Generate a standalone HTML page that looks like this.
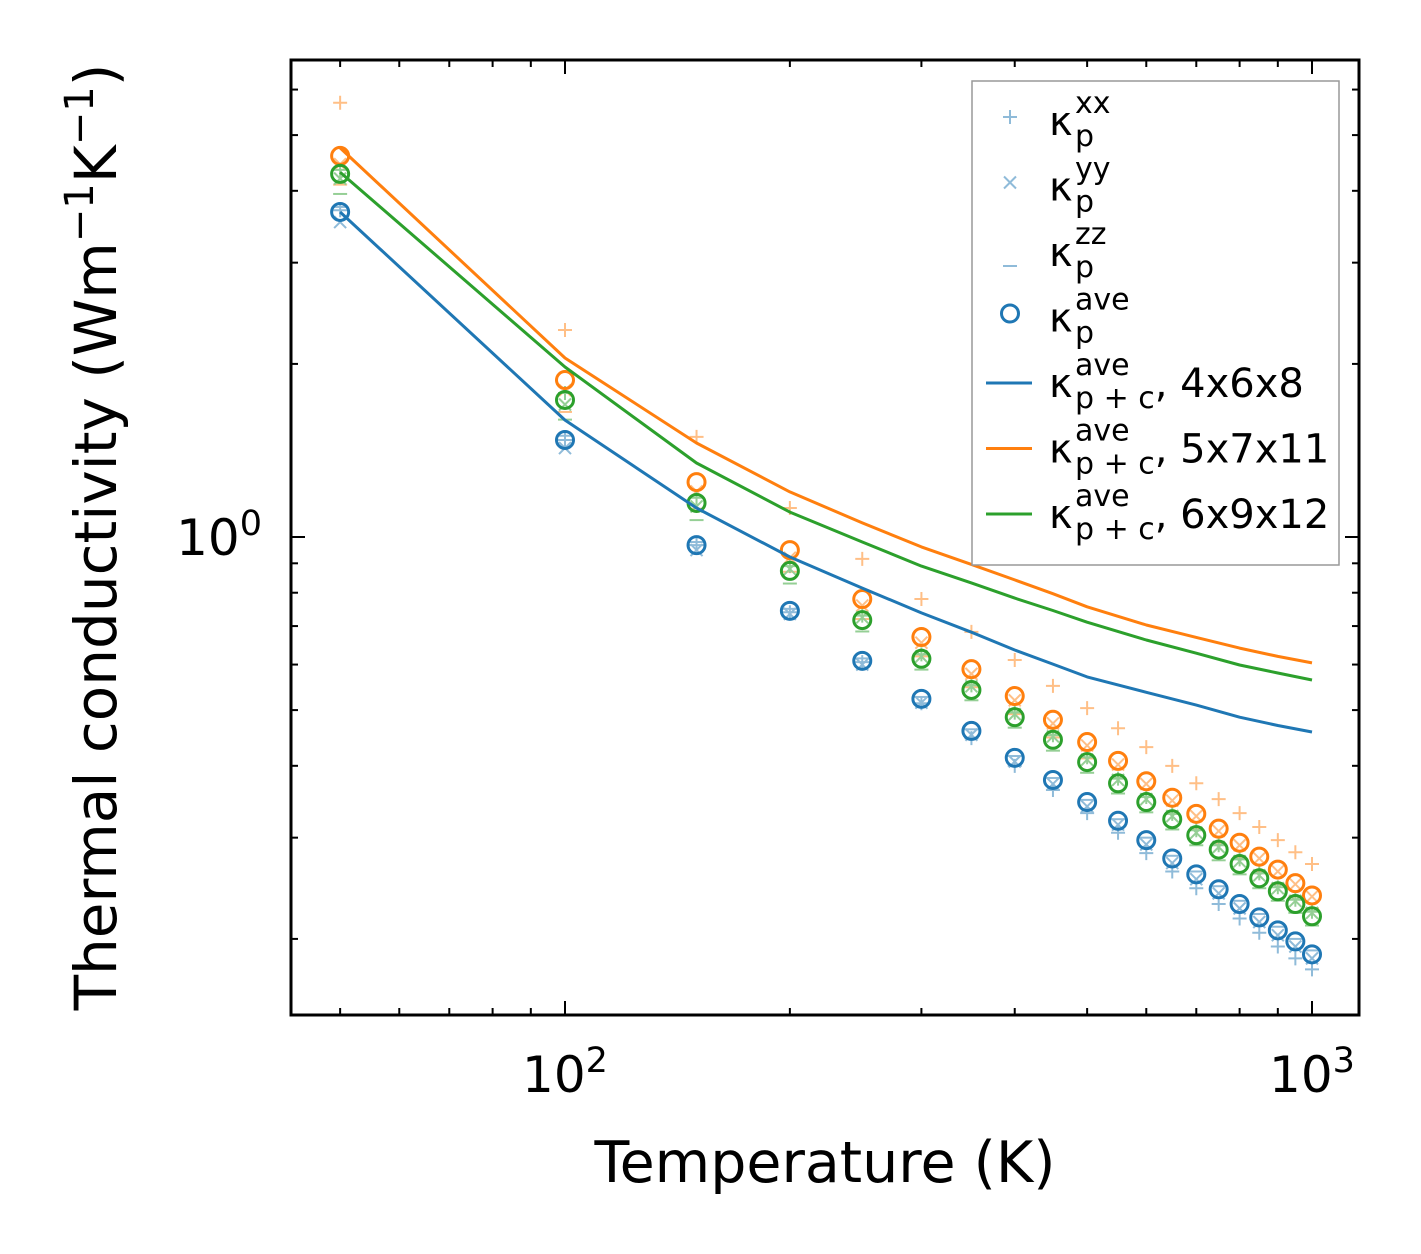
<!DOCTYPE html>
<html><head><meta charset="utf-8"><style>
html,body{margin:0;padding:0;background:#fff;}
svg{display:block;font-family:"DejaVu Sans","Liberation Sans",sans-serif;}
</style></head><body>
<svg id="chart" width="1421" height="1254" viewBox="0 0 1421 1254" xmlns="http://www.w3.org/2000/svg">
<rect width="1421" height="1254" fill="#fff"/>
<g id="marks"></g>
<g id="axes"></g>
<text x="825" y="1182" font-size="57" text-anchor="middle">Temperature (K)</text>
<text transform="translate(116,537) rotate(-90)" font-size="58" text-anchor="middle">Thermal conductivity (Wm<tspan dy="-23" font-size="40">−1</tspan><tspan dy="23">K</tspan><tspan dy="-23" font-size="40">−1</tspan><tspan dy="23">)</tspan></text>
<g id="legend"></g>
</svg>
<script>
const temps = [50,100,150,200,250,300,350,400,450,500,550,600,650,700,750,800,850,900,950,1000];
const lineTemps = [50,100,150,200,250,300,350,400,450,500,600,700,800,900,1000];
const blueAve = [3.675,1.475,0.968,0.744,0.609,0.523,0.460,0.413,0.378,0.346,0.321,0.297,0.276,0.259,0.244,0.230,0.218,0.207,0.198,0.188];
const orangeAve = [4.60,1.875,1.246,0.949,0.780,0.670,0.589,0.529,0.481,0.440,0.408,0.376,0.352,0.330,0.311,0.294,0.278,0.264,0.250,0.238];
const greenAve = [4.28,1.731,1.146,0.873,0.717,0.614,0.542,0.486,0.444,0.406,0.373,0.346,0.323,0.303,0.286,0.270,0.255,0.242,0.230,0.219];
const blueXX = [3.70,1.475,0.968,0.740,0.606,0.514,0.447,0.400,0.363,0.331,0.306,0.282,0.262,0.245,0.230,0.217,0.205,0.194,0.185,0.177];
const blueYY = [3.53,1.428,0.949,0.735,0.600,0.515,0.453,0.407,0.372,0.340,0.316,0.292,0.271,0.254,0.240,0.226,0.214,0.203,0.194,0.185];
const blueZZ = [3.75,1.50,0.98,0.75,0.615,0.527,0.463,0.416,0.381,0.349,0.323,0.300,0.279,0.262,0.247,0.233,0.221,0.210,0.200,0.191];
const orangeXX = [5.69,2.291,1.493,1.123,0.916,0.780,0.684,0.611,0.551,0.504,0.465,0.431,0.400,0.373,0.350,0.331,0.313,0.297,0.283,0.270];
const orangeYY = [4.45,1.80,1.20,0.92,0.76,0.655,0.578,0.520,0.474,0.434,0.402,0.372,0.348,0.327,0.308,0.291,0.276,0.262,0.249,0.237];
const orangeZZ = [4.10,1.65,1.12,0.87,0.72,0.62,0.548,0.492,0.448,0.412,0.381,0.353,0.330,0.310,0.293,0.277,0.262,0.249,0.237,0.226];
const greenXX = [4.35,1.78,1.17,0.89,0.73,0.625,0.552,0.495,0.452,0.414,0.380,0.353,0.330,0.309,0.291,0.275,0.260,0.246,0.234,0.223];
const greenYY = [4.2,1.70,1.13,0.88,0.725,0.62,0.55,0.492,0.45,0.41,0.378,0.35,0.327,0.306,0.289,0.273,0.258,0.245,0.233,0.222];
const greenZZ = [3.95,1.60,1.07,0.83,0.685,0.588,0.52,0.466,0.425,0.389,0.358,0.332,0.310,0.291,0.274,0.259,0.245,0.233,0.222,0.211];
const blueLine = [3.675,1.597,1.123,0.923,0.815,0.738,0.683,0.636,0.601,0.571,0.537,0.510,0.486,0.470,0.458];
const orangeLine = [4.75,2.048,1.457,1.198,1.058,0.961,0.896,0.842,0.797,0.756,0.703,0.669,0.641,0.620,0.604];
const greenLine = [4.31,1.975,1.345,1.105,0.980,0.890,0.832,0.783,0.745,0.711,0.662,0.628,0.599,0.580,0.564];
const xMajor = [100,1000];
const xMinor = [50,60,70,80,90,200,300,400,500,600,700,800,900];
const yMajor = [1];
const yMinor = [0.2,0.3,0.4,0.5,0.6,0.7,0.8,0.9,2,3,4,5,6];

const L=291,R=1359,T=60,B=1015;
function xs(v){return 565+747*(Math.log10(v)-2);}
function ys(v){return 537-575*Math.log10(v);}
const NS="http://www.w3.org/2000/svg";
function mk(tag,attrs,parent){const e=document.createElementNS(NS,tag);for(const k in attrs)e.setAttribute(k,attrs[k]);parent.appendChild(e);return e;}
const marks=document.getElementById('marks');
const axes=document.getElementById('axes');
const C={b:'#1f77b4',o:'#ff7f0e',g:'#2ca02c'};
const pale={b:'#8fbbd9',o:'#ffbf86',g:'#95cf95'};

function plus(x,y,c,g,s){return mk('path',{d:`M${x-s} ${y}H${x+s}M${x} ${y-s}V${y+s}`,stroke:c,'stroke-width':2,fill:'none'},g);}
function cross(x,y,c,g,s){return mk('path',{d:`M${x-s} ${y-s}L${x+s} ${y+s}M${x-s} ${y+s}L${x+s} ${y-s}`,stroke:c,'stroke-width':2,fill:'none'},g);}
function hline(x,y,c,g,s){return mk('path',{d:`M${x-s} ${y}H${x+s}`,stroke:c,'stroke-width':2,fill:'none'},g);}

const sets=[['b',blueXX,blueYY,blueZZ],['o',orangeXX,orangeYY,orangeZZ],['g',greenXX,greenYY,greenZZ]];
sets.forEach(([k,xx,yy,zz])=>{
  const g=mk('g',{},marks);
  
  
  temps.forEach((t,i)=>{
    const a=plus(xs(t),ys(xx[i]),pale[k],g,7);
    
    
    const b=cross(xs(t),ys(yy[i]),pale[k],g,6);
    
    
    const c=hline(xs(t),ys(zz[i]),pale[k],g,7);
    
    
  });
});
[['b',blueAve],['o',orangeAve],['g',greenAve]].forEach(([k,arr])=>{
  const g=mk('g',{},marks);
  
  
  temps.forEach((t,i)=>{
    const c=mk('circle',{cx:xs(t),cy:ys(arr[i]),r:8.5,fill:'none',stroke:C[k],'stroke-width':3},g);
    
    
  });
});
[['b',blueLine],['o',orangeLine],['g',greenLine]].forEach(([k,arr])=>{
  const d=lineTemps.map((t,i)=>(i?'L':'M')+xs(t).toFixed(1)+' '+ys(arr[i]).toFixed(1)).join('');
  const p=mk('path',{d:d,fill:'none',stroke:C[k],'stroke-width':3,'stroke-linejoin':'round'},marks);
  
  
});

const frame=mk('rect',{x:L,y:T,width:R-L,height:B-T,fill:'none',stroke:'#000','stroke-width':3},axes);


function tickX(v,len){const x=xs(v);mk('line',{x1:x,x2:x,y1:B,y2:B-len,stroke:'#000','stroke-width':2},axes);mk('line',{x1:x,x2:x,y1:T,y2:T+len,stroke:'#000','stroke-width':2},axes);}
function tickY(v,len){const y=ys(v);mk('line',{x1:L,x2:L+len,y1:y,y2:y,stroke:'#000','stroke-width':2},axes);mk('line',{x1:R,x2:R-len,y1:y,y2:y,stroke:'#000','stroke-width':2},axes);}
xMajor.forEach(v=>tickX(v,14));xMinor.forEach(v=>tickX(v,7));
yMajor.forEach(v=>tickY(v,14));yMinor.forEach(v=>tickY(v,7));
xMajor.forEach(v=>{
  const t=mk('text',{x:xs(v),y:1092,'font-size':50,'text-anchor':'middle'},axes);
  
  
  t.innerHTML='10<tspan dy="-20" font-size="35">'+Math.round(Math.log10(v))+'</tspan>';
});
yMajor.forEach(v=>{
  const t=mk('text',{x:262,y:ys(v)+18,'font-size':50,'text-anchor':'end'},axes);
  
  
  t.innerHTML='10<tspan dy="-20" font-size="35">'+Math.round(Math.log10(v))+'</tspan>';
});

const lg=document.getElementById('legend');
mk('rect',{x:972,y:81,width:367,height:484,fill:'#fff',stroke:'#999','stroke-width':1.5},lg);
const entries=[['plus','xx',''],['cross','yy',''],['dash','zz',''],['circ','ave',''],['lb','ave',', 4x6x8'],['lo','ave',', 5x7x11'],['lg','ave',', 6x9x12']];
entries.forEach((e,i)=>{
  const y=117+i*65.5;
  const g=mk('g',{},lg);
  
  
  if(e[0]==='plus')plus(1010,y,pale.b,g,7);
  else if(e[0]==='cross')cross(1010,y,pale.b,g,6);
  else if(e[0]==='dash')hline(1010,y+18,pale.b,g,7);
  else if(e[0]==='circ')mk('circle',{cx:1010,cy:y,r:8.5,fill:'none',stroke:C.b,'stroke-width':3},g);
  else mk('line',{x1:986,x2:1032,y1:y+4,y2:y+4,stroke:C[e[0][1]],'stroke-width':3},g);
  const sub = i>=4 ? 'p + c' : 'p';
  const t=mk('text',{x:1049,y:y+18,'font-size':40},g);
  t.innerHTML='κ<tspan x="1075" dy="-22" font-size="30">'+e[1]+'</tspan><tspan x="1075" dy="33" font-size="30">'+sub+'</tspan>'+(e[2]?'<tspan dy="-11" font-size="40">'+e[2]+'</tspan>':'');
});
</script>
</body></html>
